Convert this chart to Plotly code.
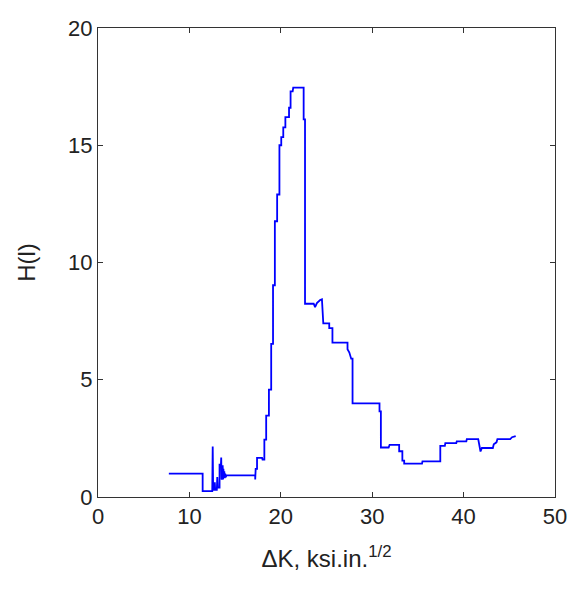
import plotly.graph_objects as go

# Stress-intensity range (ksi·in^1/2) and the measured H(l) value at each step
delta_k = [
    7.75, 11.45, 11.45, 12.5, 12.55, 12.6, 12.75, 12.78, 12.82, 13.0, 13.05, 13.1,
    13.3, 13.3, 13.45, 13.48, 13.52, 13.56, 13.6, 13.64, 13.68, 13.72, 13.77,
    13.82, 13.87, 13.92, 13.98, 14.05, 17.2, 17.2, 17.25, 17.4, 17.4, 17.95, 18.0,
    18.2, 18.2, 18.4, 18.4, 18.7, 18.7, 18.95, 18.95, 19.15, 19.15, 19.35, 19.35,
    19.6, 19.6, 19.85, 19.85, 20.05, 20.05, 20.27, 20.27, 20.5, 20.5, 20.9, 20.9,
    21.07, 21.07, 21.3, 21.36, 22.5, 22.5, 22.65, 22.65, 23.6, 23.75, 23.95, 24.3,
    24.5, 24.65, 25.3, 25.3, 25.65, 25.65, 27.3, 27.3, 27.5, 27.7, 27.85, 27.85,
    30.8, 30.8, 30.95, 30.95, 31.8, 31.9, 32.95, 32.95, 33.3, 33.3, 33.5, 33.5,
    35.45, 35.5, 37.45, 37.45, 37.95, 38.0, 39.2, 39.25, 40.3, 40.35, 41.6, 41.7,
    41.85, 42.0, 43.2, 43.3, 43.6, 43.7, 45.1, 45.3, 45.7,
]
h_l = [
    1.0, 1.0, 0.25, 0.25, 2.15, 0.3, 0.3, 0.63, 0.3, 0.3, 0.85, 0.4,
    0.4, 1.38, 1.38, 1.68, 0.75, 1.5, 0.8, 1.35, 0.75, 1.2, 0.8,
    1.1, 0.8, 1.0, 0.85, 0.92, 0.92, 0.75, 1.2, 1.2, 1.67, 1.67, 1.6,
    1.6, 2.45, 2.45, 3.47, 3.47, 4.58, 4.58, 6.53, 6.53, 9.03, 9.03, 11.76,
    11.76, 12.9, 12.9, 15.0, 15.0, 15.35, 15.35, 15.76, 15.76, 16.2, 16.2, 16.6,
    16.6, 17.3, 17.3, 17.46, 17.46, 16.1, 16.1, 8.24, 8.24, 8.1, 8.27, 8.4,
    8.43, 7.4, 7.4, 7.2, 7.2, 6.58, 6.58, 6.3, 6.16, 5.9, 5.9, 3.99,
    3.99, 3.65, 3.65, 2.11, 2.11, 2.22, 2.22, 1.95, 1.95, 1.55, 1.55, 1.42,
    1.42, 1.52, 1.52, 2.18, 2.18, 2.3, 2.3, 2.37, 2.37, 2.47, 2.47, 2.2,
    1.94, 2.09, 2.09, 2.25, 2.33, 2.47, 2.47, 2.55, 2.6,
]

x_ticks = [0, 10, 20, 30, 40, 50]
y_ticks = [0, 5, 10, 15, 20]

fig = go.Figure()
fig.add_trace(go.Scatter(
    x=delta_k, y=h_l, mode="lines",
    line=dict(color="#0000ff", width=1.8),
    hoverinfo="skip",
))

family = "Liberation Sans, Arial, sans-serif"
tick_font = dict(family=family, size=22, color="#222222")
title_font = dict(family=family, size=24, color="#222222")
axis_common = dict(
    showline=True, linecolor="#333333", linewidth=1,
    mirror="ticks", ticks="inside", ticklen=5, tickcolor="#333333", tickwidth=1,
    showgrid=False, zeroline=False, tickfont=tick_font, automargin=False,
)

fig.update_layout(
    width=572, height=592,
    margin=dict(l=98, r=17, t=28, b=95),
    paper_bgcolor="white", plot_bgcolor="white",
    showlegend=False,
    xaxis=dict(range=[0, 50], tickvals=x_ticks, ticktext=[str(v) for v in x_ticks],
               title=dict(text="ΔK, ksi.in.<sup>1/2</sup>", font=title_font, standoff=21),
               **axis_common),
    yaxis=dict(range=[0, 20], tickvals=y_ticks, ticktext=[str(v) for v in y_ticks],
               title=dict(text="H(l)", font=title_font, standoff=25),
               **axis_common),
)

fig.write_html("out.html")
